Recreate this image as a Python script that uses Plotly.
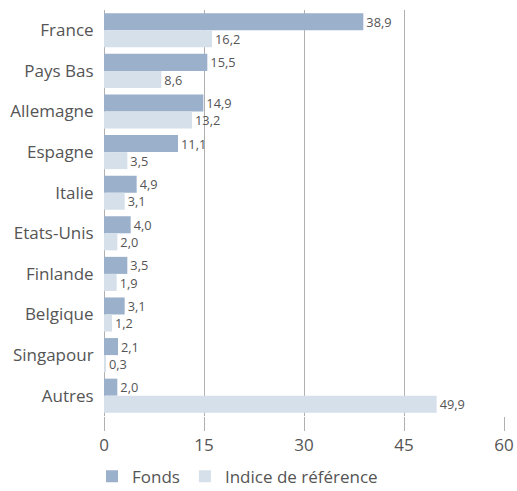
import plotly.graph_objects as go

categories = ["France", "Pays Bas", "Allemagne", "Espagne", "Italie", "Etats-Unis",
              "Finlande", "Belgique", "Singapour", "Autres"]
fonds = [38.9, 15.5, 14.9, 11.1, 4.9, 4.0, 3.5, 3.1, 2.1, 2.0]
indice = [16.2, 8.6, 13.2, 3.5, 3.1, 2.0, 1.9, 1.2, 0.3, 49.9]
tick_vals = [0, 15, 30, 45, 60]

c_fonds = "#9ab0cb"
c_indice = "#d6e0ea"
txt = "#555555"
grid = "#b0b0b0"
FONT = "Open Sans, Lato, sans-serif"

fig = go.Figure()
fig.add_trace(go.Bar(y=categories, x=fonds, orientation="h", name="Fonds",
                     marker=dict(color=c_fonds, line=dict(width=0)),
                     texttemplate="%{x:.1f}", textposition="outside",
                     textfont=dict(color=txt, size=15), cliponaxis=False))
fig.add_trace(go.Bar(y=categories, x=indice, orientation="h", name="Indice de référence",
                     marker=dict(color=c_indice, line=dict(width=0)),
                     texttemplate="%{x:.1f}", textposition="outside",
                     textfont=dict(color=txt, size=15), cliponaxis=False))

fig.update_layout(
    width=517, height=491,
    margin=dict(l=104, r=13, t=10, b=75, autoexpand=False),
    paper_bgcolor="white", plot_bgcolor="white",
    barmode="group", bargap=0.16, bargroupgap=0,
    separators=", ",
    font=dict(family=FONT, color=txt, size=17),
    showlegend=True,
    legend=dict(orientation="h", x=-0.03, xanchor="left", y=-0.105, yanchor="top",
                font=dict(size=17, color=txt), itemwidth=30, traceorder="normal",
                tracegroupgap=0),
    xaxis=dict(range=[0, 60], tickvals=tick_vals, showgrid=True, gridcolor=grid,
               gridwidth=1, zeroline=True, zerolinecolor=grid, zerolinewidth=1,
               showline=False, ticks="outside", ticklen=14, tickcolor=grid,
               tickfont=dict(size=17, color=txt)),
    yaxis=dict(autorange="reversed", showgrid=False, zeroline=False, showline=False,
               ticks="outside", ticklen=6, tickcolor="rgba(0,0,0,0)",
               tickfont=dict(size=17, color=txt)),
)

fig.write_html("out.html", config={"displayModeBar": False},
               post_script="document.body.style.margin='0';document.body.style.overflow='hidden';")
